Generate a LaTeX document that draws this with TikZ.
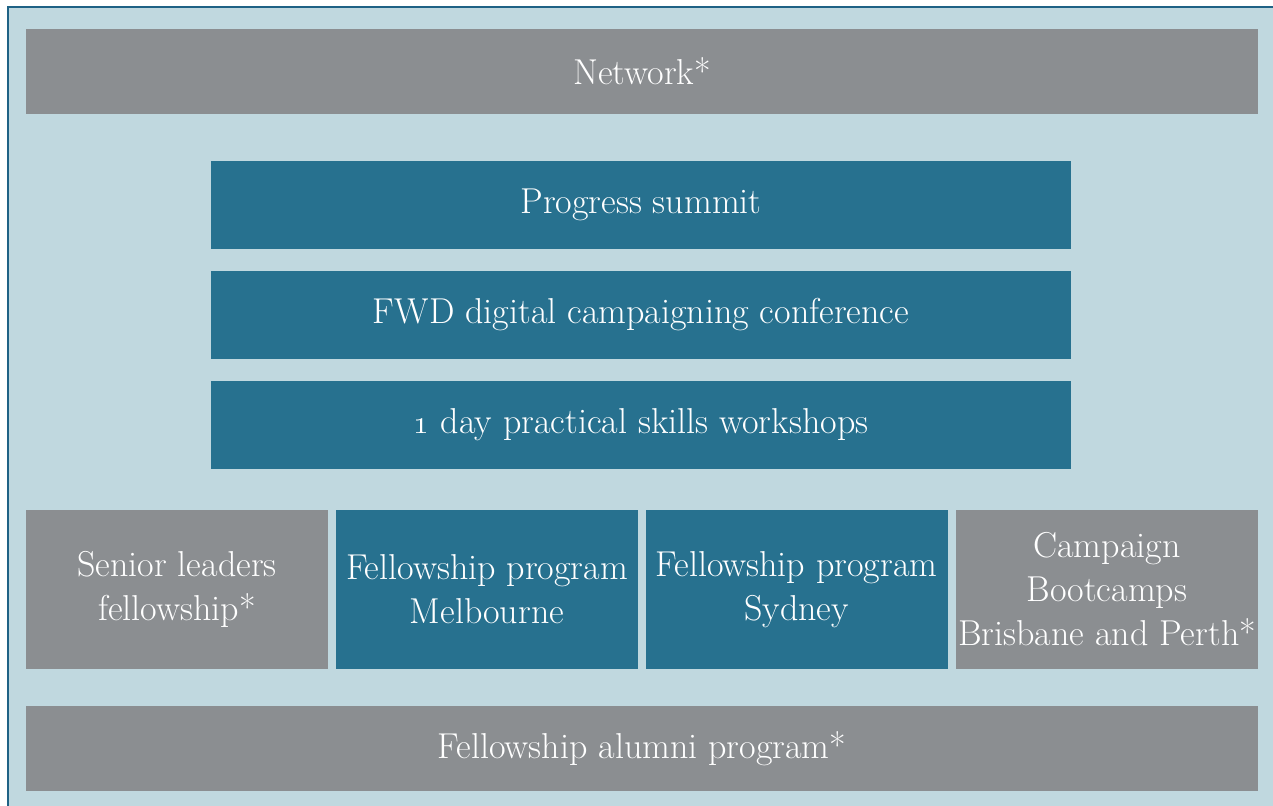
\documentclass[tikz,border=0pt]{standalone}
\usepackage{tikz}
\usetikzlibrary{positioning}

\definecolor{panelbg}{HTML}{C0D8DF}
\definecolor{panelline}{HTML}{1F6285}
\definecolor{greybox}{HTML}{8B8E91}
\definecolor{tealbox}{HTML}{27718F}

\tikzset{
  block/.style={inner sep=0pt, align=center, text=white, font=\fontsize{18}{22}\selectfont},
  greyblock/.style={block, fill=greybox},
  tealblock/.style={block, fill=tealbox},
  wide/.style={minimum width=616pt, minimum height=42.5pt},
  mid/.style={minimum width=430pt, minimum height=44pt},
  cell/.style={minimum width=151pt, minimum height=79.5pt}
}

\begin{document}
\begin{tikzpicture}[x=0.5pt, y=-0.5pt]

            % page and panel
            \useasboundingbox (0,0) rectangle (1273,805);
            \begin{scope}
            \clip (0,0) rectangle (1273,805);
            \draw[panelline, fill=panelbg, line width=1pt] (7.5,6.5) rectangle (1290,820);
            \end{scope}

            % top and bottom bands
            \node[greyblock, wide] (network) at (642,71) {Network*};
            \node[greyblock, wide] (alumni) at (642,748.5) {Fellowship alumni program*};

            % events
            \node[tealblock, mid] (summit) at (641,205) {Progress summit};
            \node[tealblock, mid] (fwd) at (641,315) {FWD digital campaigning conference};
            \node[tealblock, mid] (workshops) at (641,425) {\oldstylenums{1} day practical skills workshops};

            % programs
            \node[greyblock, cell] (senior) at (177,589.5) {Senior leaders\\fellowship*};
            \node[tealblock, cell] (melbourne) at (487,589.5) {Fellowship program\\Melbourne};
            \node[tealblock, cell] (sydney) at (796.5,589.5) {Fellowship program\\Sydney};
            \node[greyblock, cell] (bootcamps) at (1107,589.5) {Campaign\\Bootcamps\\Brisbane and Perth*};
        \end{tikzpicture}
\end{document}
